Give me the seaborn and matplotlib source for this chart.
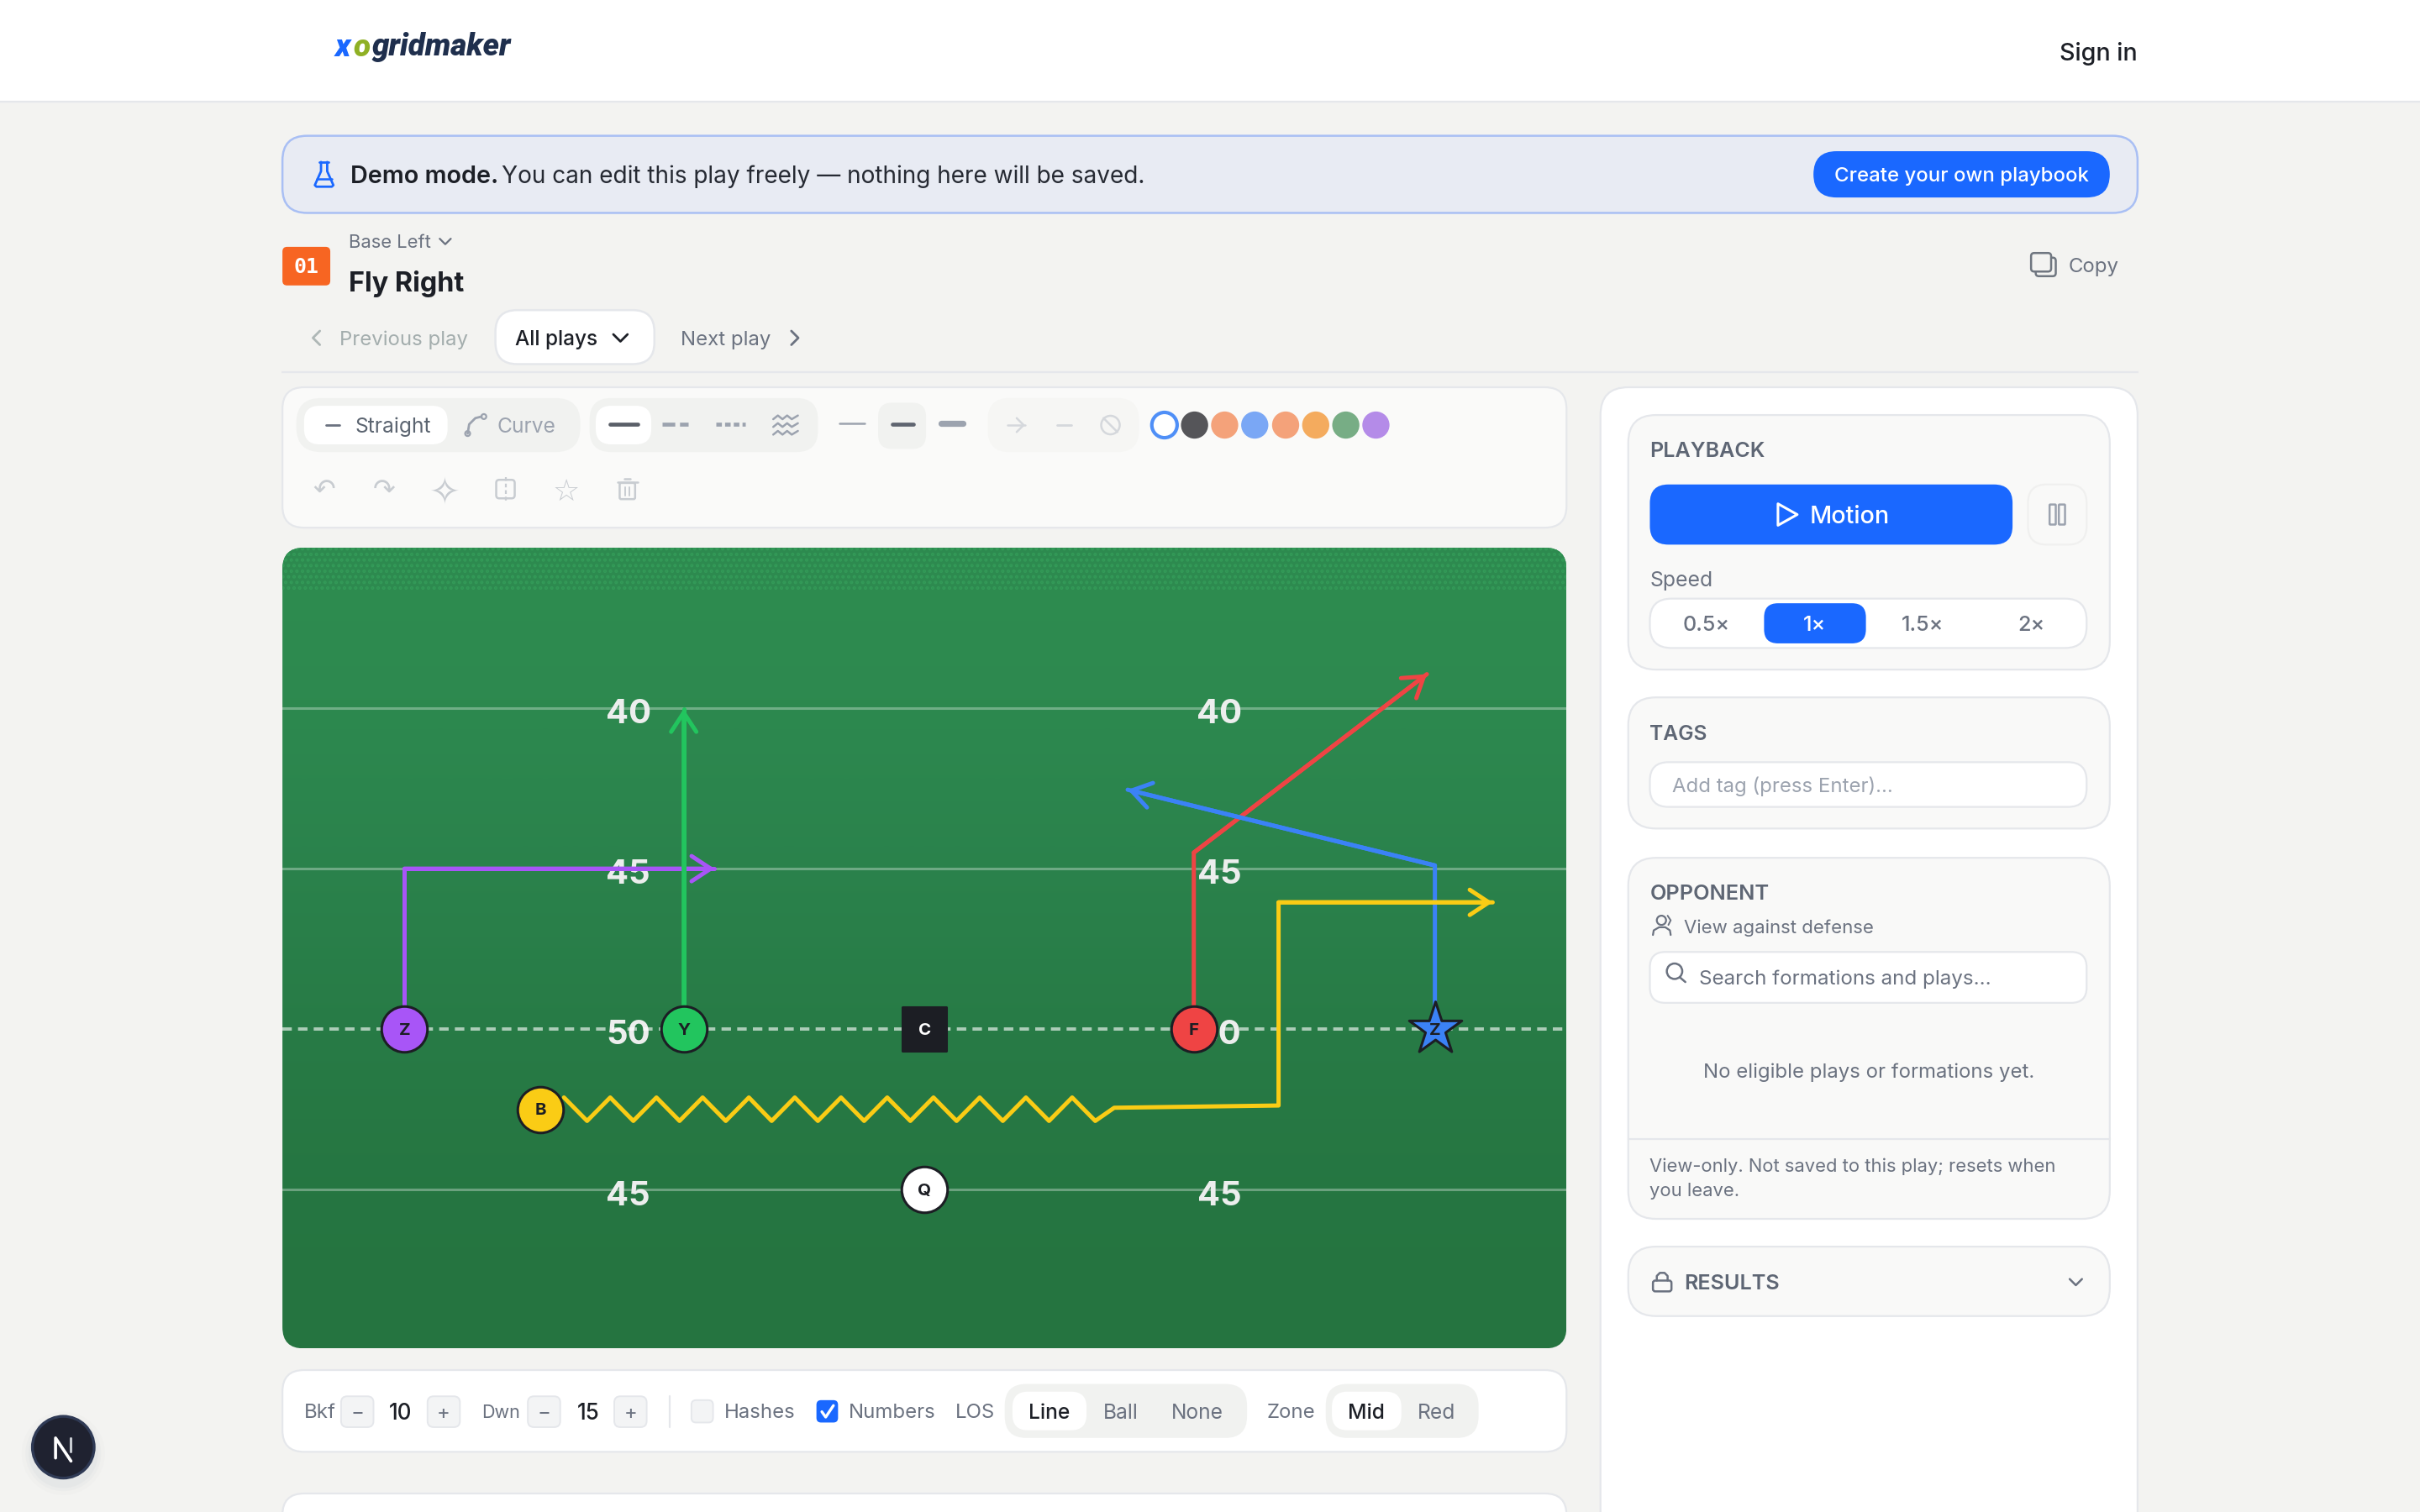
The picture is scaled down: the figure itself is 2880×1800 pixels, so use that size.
import matplotlib
matplotlib.use('Agg')
import matplotlib.pyplot as plt
import numpy as np
import seaborn as sns
from matplotlib.patches import FancyBboxPatch, Circle, Rectangle

sns.set_theme(style='white')
plt.rcParams['font.family'] = ['Inter', 'DejaVu Sans']

# play data, yards from the center (x) and from the line of scrimmage (y)
yard_lines = [10, 5, -5]
yard_numbers = ['40', '45', '50', '45']
yard_number_y = [9.9, 4.9, -0.1, -5.1]
number_col_x = [-9.23, 9.18]

player_labels = ['Z', 'Y', 'C', 'F', 'Z', 'B', 'Q']
player_x = [-16.2, -7.5, 0.0, 8.39, 15.9, -11.97, 0.0]
player_y = [0.0, 0.0, 0.0, 0.0, 0.0, -2.5, -5.0]
player_colors = ['#a855f7', '#22c55e', '#1c1e24', '#ef4444', '#3b82f6', '#facc15', '#ffffff']
player_text = ['#1c1e24', '#1c1e24', '#ffffff', '#1c1e24', '#1c1e24', '#1c1e24', '#1c1e24']
player_markers = ['o', 'o', 's', 'o', '*', 'o', 'o']

purple_x = [-16.2, -16.2, -6.54]
purple_y = [0.0, 5.0, 5.0]
green_x = [-7.5, -7.5]
green_y = [0.0, 9.98]
red_x = [8.39, 8.39, 15.65]
red_y = [0.0, 5.5, 11.06]
blue_x = [15.9, 15.9, 6.33]
blue_y = [0.0, 5.1, 7.46]
yellow_x = [-11.23, -10.51, -9.79, -9.07, -8.35, -7.63, -6.91, -6.19, -5.47, -4.76, -4.04, -3.32,
            -2.60, -1.88, -1.16, -0.44, 0.28, 1.00, 1.72, 2.44, 3.16, 3.88, 4.60, 5.32,
            5.91, 11.03, 11.03, 17.7]
yellow_y = [-2.13, -2.86, -2.13, -2.86, -2.13, -2.86, -2.13, -2.86, -2.13, -2.86, -2.13, -2.86,
            -2.13, -2.86, -2.13, -2.86, -2.13, -2.86, -2.13, -2.86, -2.13, -2.86, -2.13, -2.86,
            -2.45, -2.38, 3.95, 3.95]

speed_labels = ['0.5×', '1×', '1.5×', '2×']
swatch_colors = ['#555559', '#f4a27a', '#7aa7f5', '#f4a27a', '#f4ab5e', '#77ad85', '#b48be8']

BG = '#f3f3f1'
BORDER = '#e5e7eb'
BLUE = '#1a68ff'
GRAY = '#6b7280'
LIGHT = '#9ca3af'
FAINT = '#c8ccd1'
INK = '#1c1f26'

fig = plt.figure(figsize=(14.4, 9), dpi=200, facecolor=BG)
ax = fig.add_axes([0, 0, 1, 1])
ax.set_xlim(0, 1568)
ax.set_ylim(980, 0)
ax.axis('off')


def box(x0, y0, x1, y1, r, fc, ec='none', lw=1.0, z=1):
    p = FancyBboxPatch((x0, y0), x1 - x0, y1 - y0, boxstyle=f'round,pad=0,rounding_size={r}',
                       fc=fc, ec=ec, lw=lw, zorder=z)
    ax.add_patch(p)
    return p


def txt(x, y, s, size, color=INK, weight='normal', ha='left', **kw):
    kw.setdefault('zorder', 5)
    return ax.text(x, y, s, fontsize=size * 0.72, color=color, fontweight=weight, ha=ha,
                   va='center_baseline', **kw)


def ln(xs, ys, color, lw=1.0, z=4, **kw):
    ax.plot(xs, ys, color=color, lw=lw, zorder=z, solid_capstyle='round', solid_joinstyle='round', **kw)


def chev(x, y, d, s, color, lw=1.1):
    if d == 'down':
        ln([x - s, x, x + s], [y - s / 2, y + s / 2, y - s / 2], color, lw)
    elif d == 'left':
        ln([x + s / 2, x - s / 2, x + s / 2], [y - s, y, y + s], color, lw)
    else:
        ln([x - s / 2, x + s / 2, x - s / 2], [y - s, y, y + s], color, lw)


# header
ax.add_patch(Rectangle((0, 0), 1568, 66, fc='white', ec='none', zorder=1))
ln([0, 1568], [66, 66], BORDER, 0.8)
logo = dict(family=['Roboto', 'DejaVu Sans'], style='italic')
txt(217, 29, 'x', 18.5, BLUE, 'black', **logo)
txt(229, 29, 'o', 18.5, '#8fb024', 'black', **logo)
txt(241, 28.5, 'gridmaker', 18.3, '#1f2f4d', 'black', **logo)
txt(1385, 33, 'Sign in', 14.3, INK, 'medium', ha='right')

# demo banner
box(183, 88, 1385, 138, 16, '#e8ebf3', '#a9bff4', 0.9)
ln([207, 213], [105, 105], BLUE, 1.0)
ln([208, 208, 204, 205, 215, 216, 212, 212], [105, 111, 120, 121, 121, 120, 111, 105], BLUE, 1.0)
ln([205, 215], [116, 116], BLUE, 0.9)
txt(227, 113, 'Demo mode.', 14.4, INK, 'semibold')
txt(325, 113, 'You can edit this play freely — nothing here will be saved.', 14, '#262a33')
box(1175, 98, 1367, 128, 15, BLUE)
txt(1271, 113, 'Create your own playbook', 12, 'white', 'medium', ha='center')

# play heading
box(183, 160, 214, 185, 3, '#f76522')
txt(198.5, 172, '01', 12.5, 'white', 'bold', ha='center', family='DejaVu Sans Mono')
txt(226, 156, 'Base Left', 11, GRAY)
chev(288.5, 156.5, 'down', 3.6, GRAY, 0.8)
txt(226, 182, 'Fly Right', 16.2, INK, 'bold')
box(1319, 167, 1332, 179, 2, BG, '#6f7680', 0.9, z=3)
box(1316, 164, 1329, 176, 2, BG, '#6f7680', 0.9, z=4)
txt(1340, 172, 'Copy', 12, GRAY)

# play navigation
chev(205, 219, 'left', 4.5, '#aeb7b6', 1.0)
txt(220, 219, 'Previous play', 12, '#a3adad')
box(321, 201, 424, 236, 14, 'white', BORDER, 0.9)
txt(334, 219, 'All plays', 12.2, INK, 'medium')
chev(402, 219, 'down', 4.6, INK, 1.0)
txt(441, 219, 'Next play', 12, GRAY)
chev(515, 219, 'right', 4.5, GRAY, 1.0)
ln([183, 1385], [241, 241], BORDER, 0.8)

# toolbar
box(183, 251, 1015, 342, 14, '#fafaf9', BORDER, 0.8)
box(192, 258, 376, 293, 16, '#f1f2f0')
box(197, 263, 290, 288, 10, 'white')
ln([211, 220], [275.5, 275.5], '#6b7280', 1.0)
txt(230, 275.5, 'Straight', 12.3, '#5b6470')
ln([303, 304, 308, 312], [281, 275, 271, 270], LIGHT, 1.0)
ax.add_patch(Circle((313.5, 270), 1.6, fc='none', ec=LIGHT, lw=0.8, zorder=4))
ax.add_patch(Circle((303, 281), 1.6, fc='none', ec=LIGHT, lw=0.8, zorder=4))
txt(322, 275.5, 'Curve', 12.3, LIGHT)

box(382, 258, 530, 293, 14, '#f1f2f0')
box(386, 263, 422, 288, 10, 'white')
ln([395, 413], [275, 275], '#5a5f68', 1.7)
ln([429, 446], [275, 275], LIGHT, 1.7, linestyle=(0, (3.2, 1.2)))
ln([464, 483], [275, 275], LIGHT, 1.7, linestyle=(0, (1.4, 0.8)))
for wy in [270.5, 275.5, 280.5]:
    ln([501, 504, 507, 510, 513, 517], [wy + 1.2, wy - 1.2, wy + 1.2, wy - 1.2, wy + 1.2, wy - 1.2], LIGHT, 0.9)
ln([544, 560], [274.5, 274.5], LIGHT, 0.9)
box(569, 261, 600, 291, 9, '#f1f2f0')
ln([578, 592], [275, 275], '#5f6570', 1.7)
ln([610, 624], [274.5, 274.5], LIGHT, 2.6)
box(640, 258, 738, 293, 14, '#f6f6f4')
ln([653, 664], [275.5, 275.5], '#d5d8dc', 0.9)
chev(661, 275.5, 'right', 4.5, '#d5d8dc', 0.9)
ln([685, 694], [275.5, 275.5], '#d5d8dc', 1.0)
ax.add_patch(Circle((719.5, 275.5), 6, fc='none', ec='#d5d8dc', lw=0.9, zorder=4))
ln([715, 724], [271, 280], '#d5d8dc', 0.9)

ax.add_patch(Circle((754.5, 275.5), 8.2, fc='white', ec='#4f8ff7', lw=1.5, zorder=4))
for sx, sc in zip([774, 793.5, 813, 833, 852.5, 872, 891.5], swatch_colors):
    ax.add_patch(Circle((sx, 275.5), 8.8, fc=sc, ec='none', zorder=4))

# second toolbar row
for ix, glyph, gs in zip([210, 249, 288, 367], ['↶', '↷', '✧', '☆'], [16, 16, 22, 18]):
    txt(ix, 317, glyph, gs, FAINT, ha='center', family='DejaVu Sans')
box(321.5, 311, 333.5, 323, 2, 'none', FAINT, 0.9, z=4)
ln([327.5, 327.5], [309, 325], FAINT, 0.8, linestyle=(0, (2, 1.5)))
box(401.5, 313, 411.5, 323.5, 1, 'none', FAINT, 0.9, z=4)
ln([400, 413], [312.5, 312.5], FAINT, 0.9)
ln([404.5, 408.5], [310.5, 310.5], FAINT, 0.9)
ln([405, 405], [316, 321], FAINT, 0.7)
ln([408, 408], [316, 321], FAINT, 0.7)

# field controls
box(183, 888, 1015, 941, 14, 'white', BORDER, 0.8)
txt(197, 914.5, 'Bkf', 12, GRAY)
txt(312, 914.5, 'Dwn', 10.8, GRAY)
for bx0, sym in zip([221, 277, 342, 398], ['−', '+', '−', '+']):
    box(bx0, 905, bx0 + 21, 925, 4, '#f3f4f5', BORDER, 0.7)
    txt(bx0 + 10.5, 915, sym, 12, GRAY, ha='center')
txt(259.5, 914.5, '10', 13, INK, 'medium', ha='center')
txt(381, 914.5, '15', 13, INK, 'medium', ha='center')
ln([434, 434], [905, 925], BORDER, 0.8)
box(448, 907.5, 462, 922, 3, '#f3f4f5', BORDER, 0.7)
txt(469, 914.5, 'Hashes', 12, GRAY)
box(529, 907.5, 543, 922, 3, BLUE)
ln([532.5, 535, 540], [915, 918.5, 911], 'white', 1.2)
txt(550, 914.5, 'Numbers', 12, GRAY)
txt(619, 914.5, 'LOS', 12, GRAY)
box(651, 897, 808, 932, 14, '#f1f2f0')
box(656, 902, 704, 927, 10, 'white')
txt(680, 914.5, 'Line', 12.3, INK, 'medium', ha='center')
txt(726, 914.5, 'Ball', 12.3, GRAY, ha='center')
txt(775.5, 914.5, 'None', 12.3, GRAY, ha='center')
txt(821, 914.5, 'Zone', 12, GRAY)
box(859, 897, 958, 932, 14, '#f1f2f0')
box(863, 902, 908, 927, 10, 'white')
txt(885.5, 914.5, 'Mid', 12.3, INK, 'medium', ha='center')
txt(931, 914.5, 'Red', 12.3, GRAY, ha='center')

# cards cut by the bottom of the page
box(183, 968, 1015, 1010, 14, 'white', BORDER, 0.8)
box(1037, 251, 1385, 1010, 18, 'white', BORDER, 0.8)

# playback
CARD = '#f9f9f8'
HEAD = '#5e6674'
box(1055, 269, 1367, 434, 18, CARD, BORDER, 0.8, z=2)
txt(1069, 291.5, 'PLAYBACK', 12.5, HEAD, 'semibold')
box(1069, 314, 1304, 353, 12, BLUE, z=3)
ax.fill([1152, 1152, 1164.5], [326.5, 340.5, 333.5], fc='none', ec='white', lw=1.1, zorder=5, joinstyle='round')
txt(1198.5, 333.5, 'Motion', 14.4, 'white', 'medium', ha='center')
box(1314, 314, 1352, 353, 12, '#f9f9f8', '#f0f0ef', 0.8, z=3)
box(1328, 327, 1332, 340, 0.5, 'none', LIGHT, 0.9, z=4)
box(1334, 327, 1338, 340, 0.5, 'none', LIGHT, 0.9, z=4)
txt(1069, 375, 'Speed', 12.4, GRAY)
box(1069, 388, 1352, 420, 14, 'white', BORDER, 0.8, z=3)
box(1143, 391, 1209, 417, 9, BLUE, z=4)
for sx, label in zip([1105.5, 1175.5, 1245.5, 1316], speed_labels):
    txt(sx, 404, label, 12.6, 'white' if label == '1×' else GRAY, 'medium', ha='center')

# tags
box(1055, 452, 1367, 537, 18, CARD, BORDER, 0.8, z=2)
txt(1069, 475, 'TAGS', 12.3, HEAD, 'semibold')
box(1069, 494, 1352, 523, 12, 'white', BORDER, 0.8, z=3)
txt(1083.5, 508.5, 'Add tag (press Enter)...', 12, LIGHT)

# opponent
box(1055, 556, 1367, 790, 18, CARD, BORDER, 0.8, z=2)
txt(1069, 578, 'OPPONENT', 12.7, HEAD, 'semibold')
ax.add_patch(Circle((1076.5, 596.5), 3, fc='none', ec=GRAY, lw=0.8, zorder=4))
ln([1071, 1071.5, 1075, 1079, 1082, 1082.5], [606, 603, 601, 601, 603, 606], GRAY, 0.8)
ln([1080.5, 1082.5, 1081], [593.5, 596.5, 599.5], GRAY, 0.7)
txt(1091, 600.5, 'View against defense', 11.1, GRAY)
box(1069, 617, 1352, 650, 10, 'white', BORDER, 0.8, z=3)
ax.add_patch(Circle((1085, 629.5), 5, fc='none', ec=GRAY, lw=0.9, zorder=4))
ln([1088.5, 1092], [633.5, 636.5], GRAY, 0.9)
txt(1101, 633.5, 'Search formations and plays...', 12.1, GRAY)
txt(1211, 693.5, 'No eligible plays or formations yet.', 12, GRAY, ha='center')
ln([1055, 1367], [738, 738], BORDER, 0.8, z=3)
txt(1069, 755, 'View-only. Not saved to this play; resets when', 11, GRAY)
txt(1069, 771, 'you leave.', 11, GRAY)

# results
box(1055, 808, 1367, 853, 18, CARD, BORDER, 0.8, z=2)
box(1071, 830, 1083, 837, 1.5, 'none', GRAY, 0.9, z=4)
ln([1073.5, 1073.5, 1075.5, 1078.5, 1080.5, 1080.5], [830, 827, 825, 825, 827, 830], GRAY, 0.9)
txt(1091, 831, 'RESULTS', 12.6, HEAD, 'semibold')
chev(1345, 831, 'down', 4, GRAY, 0.9)

# next.js badge
for sr, sa in zip([27, 24.5, 22.5], [0.04, 0.06, 0.08]):
    ax.add_patch(Circle((41, 942), sr, fc='#aab2bd', ec='none', alpha=sa, zorder=2))
ax.add_patch(Circle((41, 938), 20, fc='#1f2230', ec='#2f3a55', lw=1.2, zorder=3))
ln([36, 36, 46], [945, 932, 947], 'white', 1.3, z=5)
ln([46, 46], [932, 941], '#c8ccd2', 1.1, z=5)

# the field, in yards: 40 wide, 25 tall, line of scrimmage at 0
field = fig.add_axes([183 / 1568, 1 - 874 / 980, 832 / 1568, 519 / 980], zorder=3)
field.set_xlim(-20, 20)
field.set_ylim(-9.95, 15)
field.axis('off')
clip = FancyBboxPatch((-20, -9.95), 40, 24.95, boxstyle='round,pad=0,rounding_size=0.66',
                      fc='none', ec='none', transform=field.transData)
field.add_patch(clip)
grad = np.array(['#2e8c50', '#2b834d', '#277a45', '#257440'])
rgb = np.array([matplotlib.colors.to_rgb(c) for c in grad]).reshape(4, 1, 3)
im = field.imshow(rgb, extent=(-20, 20, -9.95, 15), aspect='auto', interpolation='bicubic', zorder=0)
im.set_clip_path(clip)
field.set_xlim(-20, 20)
field.set_ylim(-9.95, 15)
band = Rectangle((-20, 13.7), 40, 1.3, fc='#2d8a4f', ec='#339a58', lw=0, hatch='.....', zorder=0.5)
field.add_patch(band)
band.set_clip_path(clip)

for yl in yard_lines:
    field.axhline(yl, color='white', alpha=0.32, lw=1.1, zorder=1)
field.axhline(0, color='white', alpha=0.62, lw=1.4, linestyle=(0, (2.9, 1.9)), zorder=2)
for cx in number_col_x:
    for num, ny in zip(yard_numbers, yard_number_y):
        field.text(cx, ny, num, color='#eceeed', fontsize=14.4, fontweight='bold', ha='center',
                   va='center_baseline', zorder=1.5)

routes = [(purple_x, purple_y, '#a855f7'), (green_x, green_y, '#22c55e'), (red_x, red_y, '#ef4444'),
          (blue_x, blue_y, '#3b82f6'), (yellow_x, yellow_y, '#facc15')]
for rx, ry, rc in routes:
    sns.lineplot(x=rx, y=ry, ax=field, color=rc, lw=1.8, sort=False, estimator=None, legend=False, zorder=3)
    field.annotate('', xy=(rx[-1], ry[-1]), xytext=(rx[-2], ry[-2]), zorder=3,
                   arrowprops=dict(arrowstyle='->,head_length=8.2,head_width=5.4', color=rc, lw=1.8,
                                   mutation_scale=1, shrinkA=0, shrinkB=0, capstyle='round'))

for lab, px, py, pc, pt, pm in zip(player_labels, player_x, player_y, player_colors, player_text, player_markers):
    msize = {'o': 385, 's': 350, '*': 560}[pm]
    sns.scatterplot(x=[px], y=[py], ax=field, color=pc, marker=pm, s=msize, edgecolor='#1c1e24', linewidth=1.1,
                    legend=False, zorder=5)
    field.text(px, py - 0.04, lab, color=pt, fontsize=7.4, fontweight='bold', ha='center', va='center', zorder=6)
field.set_xlabel('')
field.set_ylabel('')

fig.savefig('out.png', dpi=200, facecolor=BG)
